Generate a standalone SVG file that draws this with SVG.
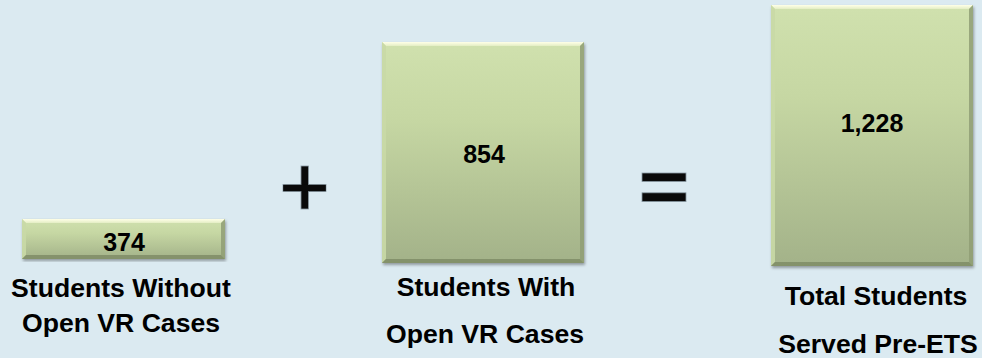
<svg xmlns="http://www.w3.org/2000/svg" width="982" height="358" viewBox="0 0 982 358">
<style>
  .num { font-family: "Liberation Sans", Arial, sans-serif; font-weight: bold; font-size: 25px; fill: #000; text-anchor: middle; }
  .lbl { font-family: "Liberation Sans", Arial, sans-serif; font-weight: bold; font-size: 26.6px; fill: #000; text-anchor: middle; }
  .box { fill: url(#boxGrad); }
  .bevTop { fill: url(#topGrad); }
  .bevLeft { fill: #c9d9a6; opacity: 0.9; }
  .bevRight { fill: #8f9d74; opacity: 0.85; }
  .bevBot { fill: #7f8c66; opacity: 0.85; }
  .op { fill: #0a0a0a; stroke: #8a9aa4; stroke-width: 0.8; }
</style>
<defs>
  <linearGradient id="boxGrad" x1="0" y1="0" x2="0" y2="1">
    <stop offset="0" stop-color="#d0e1ae"/>
    <stop offset="0.35" stop-color="#c6d7a3"/>
    <stop offset="1" stop-color="#a3b289"/>
  </linearGradient>
  <linearGradient id="topGrad" x1="0" y1="0" x2="0" y2="1">
    <stop offset="0" stop-color="#ffffe8"/>
    <stop offset="1" stop-color="#e4eec4"/>
  </linearGradient>
  <filter id="shadow" x="-5%" y="-5%" width="112%" height="112%">
    <feGaussianBlur in="SourceAlpha" stdDeviation="1.5"/>
    <feOffset dx="1" dy="1.5"/>
    <feComponentTransfer><feFuncA type="linear" slope="0.35"/></feComponentTransfer>
    <feMerge><feMergeNode/><feMergeNode in="SourceGraphic"/></feMerge>
  </filter>
</defs>
<rect x="0" y="0" width="982" height="358" fill="#dbeaf1"/>

<g id="node-without">
  <g filter="url(#shadow)">
    <rect class="box" x="22" y="219" width="203" height="40"/>
    <polygon class="bevTop" points="22,219 225,219 221,223 26,223"/>
    <polygon class="bevLeft" points="22,219 26,223 26,255 22,259"/>
    <polygon class="bevRight" points="225,219 225,259 221,255 221,223"/>
    <polygon class="bevBot" points="22,259 225,259 221,255 26,255"/>
  </g>
  <text class="num" x="124" y="251">374</text>
  <text class="lbl" x="121" y="297">Students Without</text>
  <text class="lbl" x="121" y="332">Open VR Cases</text>
</g>

<g id="op-plus">
  <rect class="op" x="283" y="184.5" width="43" height="7"/>
  <rect class="op" x="301" y="166" width="7.5" height="43"/>
  <rect x="283.4" y="184.9" width="42.2" height="6.2" fill="#0a0a0a"/>
</g>

<g id="node-with">
  <g filter="url(#shadow)">
    <rect class="box" x="382" y="42" width="202" height="221"/>
    <polygon class="bevTop" points="382,42 584,42 580,46 386,46"/>
    <polygon class="bevLeft" points="382,42 386,46 386,259 382,263"/>
    <polygon class="bevRight" points="584,42 584,263 580,259 580,46"/>
    <polygon class="bevBot" points="382,263 584,263 580,259 386,259"/>
  </g>
  <text class="num" x="484" y="163">854</text>
  <text class="lbl" x="486" y="296">Students With</text>
  <text class="lbl" x="485" y="343">Open VR Cases</text>
</g>

<g id="op-equals">
  <rect class="op" x="642" y="173" width="44" height="8.5"/>
  <rect class="op" x="642" y="192.8" width="44" height="8.8"/>
</g>

<g id="node-total">
  <g filter="url(#shadow)">
    <rect class="box" x="771" y="5" width="202" height="261"/>
    <polygon class="bevTop" points="771,5 973,5 969,9 775,9"/>
    <polygon class="bevLeft" points="771,5 775,9 775,262 771,266"/>
    <polygon class="bevRight" points="973,5 973,266 969,262 969,9"/>
    <polygon class="bevBot" points="771,266 973,266 969,262 775,262"/>
  </g>
  <text class="num" x="872" y="132">1,228</text>
  <text class="lbl" x="876" y="305">Total Students</text>
  <text class="lbl" x="878" y="353">Served Pre-ETS</text>
</g>

<g id="connectors"></g>
</svg>
